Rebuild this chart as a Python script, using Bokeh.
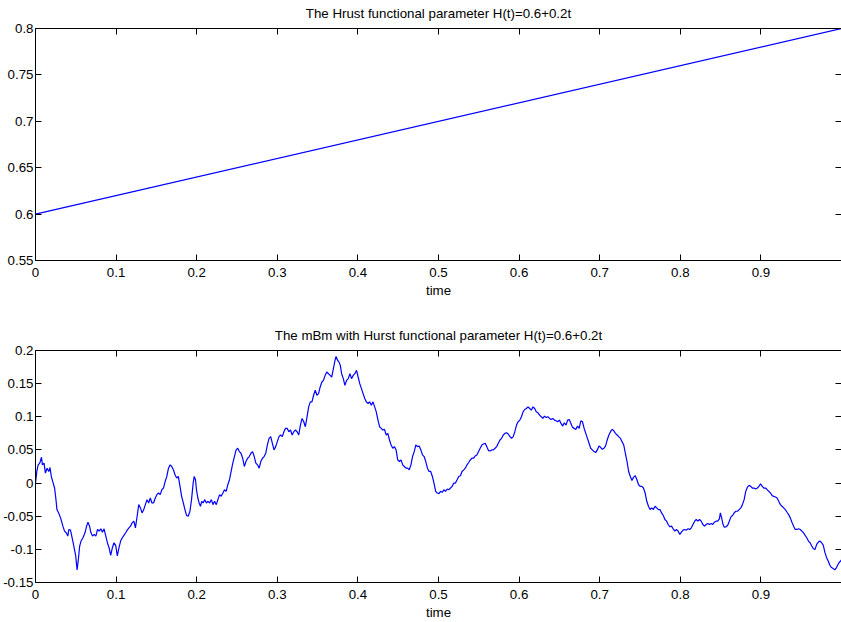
from bokeh.plotting import figure
from bokeh.models import Range1d, FixedTicker, LinearAxis, CustomJSTickFormatter
from bokeh.layouts import column
from bokeh.embed import file_html
from bokeh.resources import INLINE

FONT = "Liberation Sans"
FS = "13.3px"

title_top = "The Hrust functional parameter H(t)=0.6+0.2t"
title_bottom = "The mBm with Hurst functional parameter H(t)=0.6+0.2t"
x_label = "time"
x_ticks = [0, 0.1, 0.2, 0.3, 0.4, 0.5, 0.6, 0.7, 0.8, 0.9]
h_ticks = [0.55, 0.6, 0.65, 0.7, 0.75, 0.8]
m_ticks = [-0.15, -0.1, -0.05, 0, 0.05, 0.1, 0.15, 0.2]
h_range = (0.55, 0.8)
m_range = (-0.15, 0.2)

# Hurst function H(t) (straight line between the end points)
t_h = [0.0, 1.0]
h_vals = [0.6, 0.8]

# mBm path
t_mbm = [
    0.0000, 0.0016, 0.0033, 0.0053, 0.0074, 0.0086, 0.0106, 0.0123, 0.0143, 0.0164,
    0.0180, 0.0196, 0.0213, 0.0237, 0.0254, 0.0266, 0.0287, 0.0311, 0.0340, 0.0360,
    0.0381, 0.0401, 0.0413, 0.0434, 0.0450, 0.0467, 0.0483, 0.0499, 0.0516, 0.0532,
    0.0548, 0.0565, 0.0589, 0.0614, 0.0634, 0.0651, 0.0671, 0.0688, 0.0708, 0.0729,
    0.0749, 0.0770, 0.0790, 0.0810, 0.0831, 0.0851, 0.0872, 0.0892, 0.0913, 0.0933,
    0.0954, 0.0974, 0.0995, 0.1015, 0.1036, 0.1056, 0.1077, 0.1097, 0.1118, 0.1138,
    0.1159, 0.1179, 0.1199, 0.1220, 0.1240, 0.1261, 0.1281, 0.1302, 0.1322, 0.1343,
    0.1363, 0.1384, 0.1404, 0.1424, 0.1445, 0.1465, 0.1486, 0.1506, 0.1527, 0.1547,
    0.1568, 0.1588, 0.1609, 0.1629, 0.1650, 0.1670, 0.1690, 0.1711, 0.1731, 0.1752,
    0.1772, 0.1793, 0.1813, 0.1834, 0.1854, 0.1875, 0.1895, 0.1916, 0.1936, 0.1956,
    0.1969, 0.1985, 0.1997, 0.2014, 0.2030, 0.2047, 0.2063, 0.2079, 0.2100, 0.2120,
    0.2141, 0.2161, 0.2182, 0.2202, 0.2222, 0.2243, 0.2263, 0.2284, 0.2304, 0.2325,
    0.2345, 0.2366, 0.2386, 0.2407, 0.2427, 0.2448, 0.2468, 0.2489, 0.2509, 0.2529,
    0.2550, 0.2570, 0.2591, 0.2611, 0.2632, 0.2652, 0.2673, 0.2693, 0.2714, 0.2734,
    0.2755, 0.2775, 0.2795, 0.2816, 0.2836, 0.2857, 0.2877, 0.2898, 0.2918, 0.2939,
    0.2959, 0.2980, 0.3000, 0.3021, 0.3041, 0.3062, 0.3082, 0.3102, 0.3123, 0.3143,
    0.3164, 0.3184, 0.3205, 0.3225, 0.3246,
    0.3266, 0.3287, 0.3307, 0.3328, 0.3348, 0.3369, 0.3389, 0.3410, 0.3430, 0.3450,
    0.3471, 0.3491, 0.3512, 0.3532, 0.3553, 0.3573, 0.3594, 0.3614, 0.3635, 0.3655,
    0.3675, 0.3696, 0.3716, 0.3729, 0.3749, 0.3766, 0.3782, 0.3798, 0.3819, 0.3839,
    0.3860, 0.3880, 0.3901, 0.3921, 0.3942, 0.3962, 0.3983, 0.4003, 0.4023, 0.4044,
    0.4064, 0.4085, 0.4105, 0.4126, 0.4146, 0.4167, 0.4187, 0.4208, 0.4228, 0.4249,
    0.4269, 0.4290, 0.4310, 0.4330, 0.4351, 0.4371, 0.4392, 0.4412, 0.4433, 0.4453,
    0.4474, 0.4494, 0.4515, 0.4535, 0.4556, 0.4576, 0.4596, 0.4617, 0.4637, 0.4658,
    0.4678, 0.4699, 0.4719, 0.4740, 0.4760, 0.4781, 0.4801, 0.4822, 0.4842, 0.4863,
    0.4883, 0.4903, 0.4924, 0.4944, 0.4965, 0.4985, 0.5006, 0.5026, 0.5047, 0.5067,
    0.5088, 0.5108, 0.5129, 0.5149, 0.5169, 0.5190, 0.5210, 0.5231, 0.5251, 0.5272,
    0.5292, 0.5313, 0.5333, 0.5354, 0.5374, 0.5395, 0.5415, 0.5436, 0.5456, 0.5476,
    0.5497, 0.5517, 0.5538, 0.5558, 0.5579, 0.5599, 0.5620, 0.5640, 0.5661, 0.5681,
    0.5702, 0.5722, 0.5742, 0.5763, 0.5783, 0.5804, 0.5824, 0.5845, 0.5865, 0.5886,
    0.5906, 0.5927, 0.5947, 0.5968, 0.5988, 0.6009, 0.6029, 0.6049, 0.6070, 0.6090,
    0.6111, 0.6131, 0.6152, 0.6172, 0.6193, 0.6213, 0.6234, 0.6254, 0.6275, 0.6295,
    0.6315, 0.6336, 0.6356, 0.6377, 0.6397, 0.6418, 0.6438, 0.6459, 0.6479, 0.6500,
    0.6520, 0.6541, 0.6561,
    0.6582, 0.6602, 0.6622, 0.6643, 0.6663, 0.6684, 0.6704, 0.6725, 0.6745, 0.6766,
    0.6786, 0.6807, 0.6827, 0.6848, 0.6868, 0.6888, 0.6909, 0.6929, 0.6950, 0.6970,
    0.6991, 0.7011, 0.7032, 0.7052, 0.7073, 0.7093, 0.7114, 0.7134, 0.7155, 0.7175,
    0.7195, 0.7216, 0.7236, 0.7257, 0.7277, 0.7298, 0.7318, 0.7339, 0.7359, 0.7380,
    0.7400, 0.7421, 0.7441, 0.7462, 0.7482, 0.7502, 0.7523, 0.7543, 0.7564, 0.7584,
    0.7605, 0.7625, 0.7646, 0.7666, 0.7687, 0.7707, 0.7728, 0.7748, 0.7768, 0.7789,
    0.7809, 0.7830, 0.7850, 0.7871, 0.7891, 0.7912, 0.7932, 0.7953, 0.7973, 0.7994,
    0.8014, 0.8035, 0.8055, 0.8075, 0.8096, 0.8116, 0.8137, 0.8157, 0.8178, 0.8198,
    0.8219, 0.8239, 0.8260, 0.8280, 0.8301, 0.8321, 0.8341, 0.8362, 0.8382, 0.8403,
    0.8423, 0.8444, 0.8464, 0.8485, 0.8497, 0.8513, 0.8530, 0.8546, 0.8567, 0.8587,
    0.8608, 0.8628, 0.8648, 0.8669, 0.8689, 0.8710, 0.8730, 0.8751, 0.8771, 0.8792,
    0.8812, 0.8833, 0.8853, 0.8874, 0.8894, 0.8914, 0.8935, 0.8956, 0.8976, 0.8996,
    0.9017, 0.9037, 0.9058, 0.9078, 0.9099, 0.9119, 0.9140, 0.9160, 0.9181, 0.9201,
    0.9221, 0.9242, 0.9262, 0.9283, 0.9303, 0.9324, 0.9344, 0.9365, 0.9385, 0.9406,
    0.9426, 0.9447, 0.9467, 0.9488, 0.9508, 0.9528, 0.9549, 0.9569, 0.9590, 0.9610,
    0.9631, 0.9651, 0.9672, 0.9692, 0.9713, 0.9733, 0.9754, 0.9774, 0.9795, 0.9815,
    0.9835, 0.9856, 0.9876, 0.9897, 0.9917, 0.9938, 0.9958, 0.9971, 1.0000,
]
mbm = [
    0.0, 0.0175, 0.0275, 0.03, 0.039, 0.0275, 0.03, 0.015, 0.0225, 0.0175,
    0.0235, 0.01, 0.0025, -0.0075, -0.025, -0.04, -0.045, -0.0525, -0.065, -0.0725,
    -0.075, -0.08, -0.07, -0.071, -0.08, -0.09, -0.1, -0.11, -0.131, -0.115,
    -0.095, -0.0875, -0.0825, -0.075, -0.065, -0.059, -0.065, -0.075, -0.08, -0.0775,
    -0.08, -0.07, -0.0725, -0.069, -0.074, -0.069, -0.08, -0.09, -0.0975, -0.109,
    -0.0975, -0.09, -0.094, -0.11, -0.0975, -0.0875, -0.0825, -0.079, -0.075, -0.071,
    -0.0675, -0.065, -0.06, -0.0575, -0.0675, -0.05, -0.0325, -0.0375, -0.045, -0.04,
    -0.0325, -0.025, -0.03, -0.0225, -0.03, -0.03, -0.0225, -0.0175, -0.015, -0.0175,
    -0.01, -0.0075, 0.0025, 0.01, 0.0225, 0.0275, 0.025, 0.02, 0.0125, 0.0075,
    0.01, -0.005, -0.02, -0.03, -0.04, -0.049, -0.05, -0.0425, -0.025, 0.0,
    0.01, 0.005, -0.01, -0.0225, -0.03, -0.035, -0.0275, -0.03, -0.025, -0.03,
    -0.0275, -0.03, -0.025, -0.0325, -0.0275, -0.0325, -0.025, -0.0175, -0.02, -0.015,
    -0.01, -0.0125, -0.0025, 0.005, 0.0175, 0.03, 0.04, 0.05, 0.0525, 0.0475,
    0.045, 0.0375, 0.025, 0.0325, 0.0375, 0.04, 0.045, 0.0475, 0.04, 0.03,
    0.0275, 0.0225, 0.0325, 0.0375, 0.04, 0.045, 0.0575, 0.0675, 0.07, 0.06,
    0.05, 0.055, 0.0625, 0.07, 0.0725, 0.07, 0.0775, 0.0825, 0.0825, 0.0775,
    0.08, 0.0725, 0.0775, 0.08, 0.0775,
    0.0725, 0.0875, 0.0975, 0.0925, 0.085, 0.1, 0.115, 0.1225, 0.1225, 0.1325,
    0.14, 0.1325, 0.135, 0.145, 0.1525, 0.155, 0.1625, 0.1675, 0.165, 0.1625,
    0.16, 0.1725, 0.185, 0.191, 0.185, 0.1825, 0.1775, 0.165, 0.1575, 0.1475,
    0.155, 0.1575, 0.165, 0.1575, 0.1625, 0.165, 0.17, 0.16, 0.15, 0.1425,
    0.135, 0.1275, 0.1225, 0.12, 0.1225, 0.1175, 0.1225, 0.115, 0.1075, 0.095,
    0.085, 0.0825, 0.08, 0.081, 0.0725, 0.075, 0.065, 0.0575, 0.0525, 0.055,
    0.05, 0.035, 0.0325, 0.035, 0.0275, 0.025, 0.0225, 0.0225, 0.02, 0.0275,
    0.04, 0.0475, 0.0575, 0.055, 0.056, 0.05, 0.0425, 0.04, 0.0325, 0.0225,
    0.0175, 0.0175, 0.01, 0.0, -0.0125, -0.015, -0.016, -0.0125, -0.014, -0.01,
    -0.0125, -0.009, -0.01, -0.0075, -0.005, 0.0, 0.0, 0.005, 0.01, 0.011,
    0.0175, 0.02, 0.0225, 0.0275, 0.031, 0.035, 0.0375, 0.0375, 0.041, 0.0425,
    0.0475, 0.0525, 0.0575, 0.059, 0.06, 0.055, 0.049, 0.0485, 0.05, 0.05,
    0.0525, 0.055, 0.06, 0.065, 0.0675, 0.0725, 0.075, 0.076, 0.074, 0.07,
    0.0675, 0.07, 0.0775, 0.0875, 0.0925, 0.095, 0.1, 0.1075, 0.111, 0.1125,
    0.115, 0.1125, 0.11, 0.115, 0.1125, 0.1075, 0.106, 0.1025, 0.1, 0.0975,
    0.101, 0.099, 0.1, 0.0975, 0.096, 0.0975, 0.095, 0.094, 0.0925, 0.095,
    0.09, 0.086, 0.091,
    0.0875, 0.095, 0.096, 0.09, 0.084, 0.0825, 0.081, 0.086, 0.0825, 0.094,
    0.0925, 0.0825, 0.075, 0.0675, 0.06, 0.0525, 0.05, 0.0475, 0.046, 0.05,
    0.056, 0.054, 0.051, 0.0525, 0.056, 0.065, 0.0725, 0.0775, 0.081, 0.079,
    0.075, 0.0725, 0.07, 0.0675, 0.0625, 0.0575, 0.045, 0.0325, 0.0175, 0.01,
    0.004, 0.009, 0.011, 0.005, -0.0025, -0.005, -0.005, -0.0075, -0.015, -0.0275,
    -0.035, -0.04, -0.0375, -0.04, -0.035, -0.0375, -0.04, -0.04, -0.045, -0.049,
    -0.055, -0.0575, -0.0625, -0.066, -0.065, -0.069, -0.0725, -0.07, -0.0725, -0.0775,
    -0.074, -0.071, -0.07, -0.071, -0.069, -0.07, -0.0675, -0.0625, -0.0575, -0.055,
    -0.0575, -0.055, -0.0575, -0.0625, -0.065, -0.0625, -0.061, -0.0625, -0.061, -0.0625,
    -0.059, -0.0575, -0.0575, -0.054, -0.045, -0.0525, -0.0625, -0.0665, -0.066, -0.064,
    -0.0575, -0.051, -0.049, -0.045, -0.0425, -0.0425, -0.04, -0.0375, -0.0325, -0.025,
    -0.0125, -0.006, -0.0035, -0.005, -0.0075, -0.0075, -0.009, -0.0075, -0.005, -0.001,
    -0.005, -0.0075, -0.0075, -0.01, -0.0125, -0.015, -0.019, -0.02, -0.021, -0.0225,
    -0.0275, -0.0325, -0.035, -0.0375, -0.04, -0.044, -0.0475, -0.0525, -0.059, -0.065,
    -0.07, -0.07, -0.069, -0.07, -0.0725, -0.075, -0.079, -0.0825, -0.0875, -0.09,
    -0.095, -0.099, -0.1, -0.0925, -0.089, -0.0875, -0.09, -0.094, -0.105, -0.1125,
    -0.1175, -0.124, -0.1275, -0.129, -0.131, -0.1275, -0.1225, -0.12, -0.116,
]


def style_axis(ax, standoff=3):
    ax.axis_line_color = "black"
    ax.axis_line_width = 1
    ax.major_tick_line_color = "black"
    ax.major_tick_in = 6
    ax.major_tick_out = 0
    ax.minor_tick_line_color = None
    ax.major_label_text_font = FONT
    ax.major_label_text_font_size = FS
    ax.major_label_text_color = "black"
    ax.major_label_standoff = standoff


def style_label(ax, standoff):
    ax.axis_label_text_font = FONT
    ax.axis_label_text_font_size = FS
    ax.axis_label_text_font_style = "normal"
    ax.axis_label_text_color = "black"
    ax.axis_label_standoff = standoff


def make_panel(title, yr, yticks, height, top, bottom, tx, ty):
    p = figure(width=841, height=height,
               x_range=Range1d(0, 1), y_range=Range1d(*yr),
               output_backend="svg", toolbar_location=None,
               min_border_left=29, min_border_right=0,
               min_border_top=top, min_border_bottom=bottom)
    p.grid.visible = False
    p.outline_line_color = None
    p.background_fill_color = "white"
    p.border_fill_color = "white"

    fmt = CustomJSTickFormatter(code="return String(Math.round(tick*1000)/1000);")
    blank = CustomJSTickFormatter(code="return '';")

    xa = p.xaxis[0]
    ya = p.yaxis[0]
    style_axis(xa, standoff=7)
    style_axis(ya, standoff=2)
    xa.ticker = FixedTicker(ticks=x_ticks)
    ya.ticker = FixedTicker(ticks=yticks)
    xa.formatter = fmt
    ya.formatter = fmt
    xa.axis_label = x_label
    style_label(xa, 3)

    # box top with inward ticks; the panel title sits above it
    top_ax = LinearAxis(ticker=FixedTicker(ticks=x_ticks), formatter=blank)
    style_axis(top_ax, standoff=0)
    top_ax.major_label_text_font_size = "0px"
    top_ax.axis_label = title
    style_label(top_ax, 8)
    p.add_layout(top_ax, "above")

    right_ax = LinearAxis(ticker=FixedTicker(ticks=yticks), formatter=blank)
    style_axis(right_ax, standoff=0)
    right_ax.major_label_text_font_size = "0px"
    right_ax.axis_line_color = None
    p.add_layout(right_ax, "right")

    p.line(tx, ty, line_color="#0000ff", line_width=1.2)
    return p


p1 = make_panel(title_top, h_range, h_ticks, 318, 28, 58, t_h, h_vals)
p2 = make_panel(title_bottom, m_range, m_ticks, 304, 32, 39, t_mbm, mbm)

p = column(p1, p2)
open("out.html", "w").write(file_html(p, INLINE))
